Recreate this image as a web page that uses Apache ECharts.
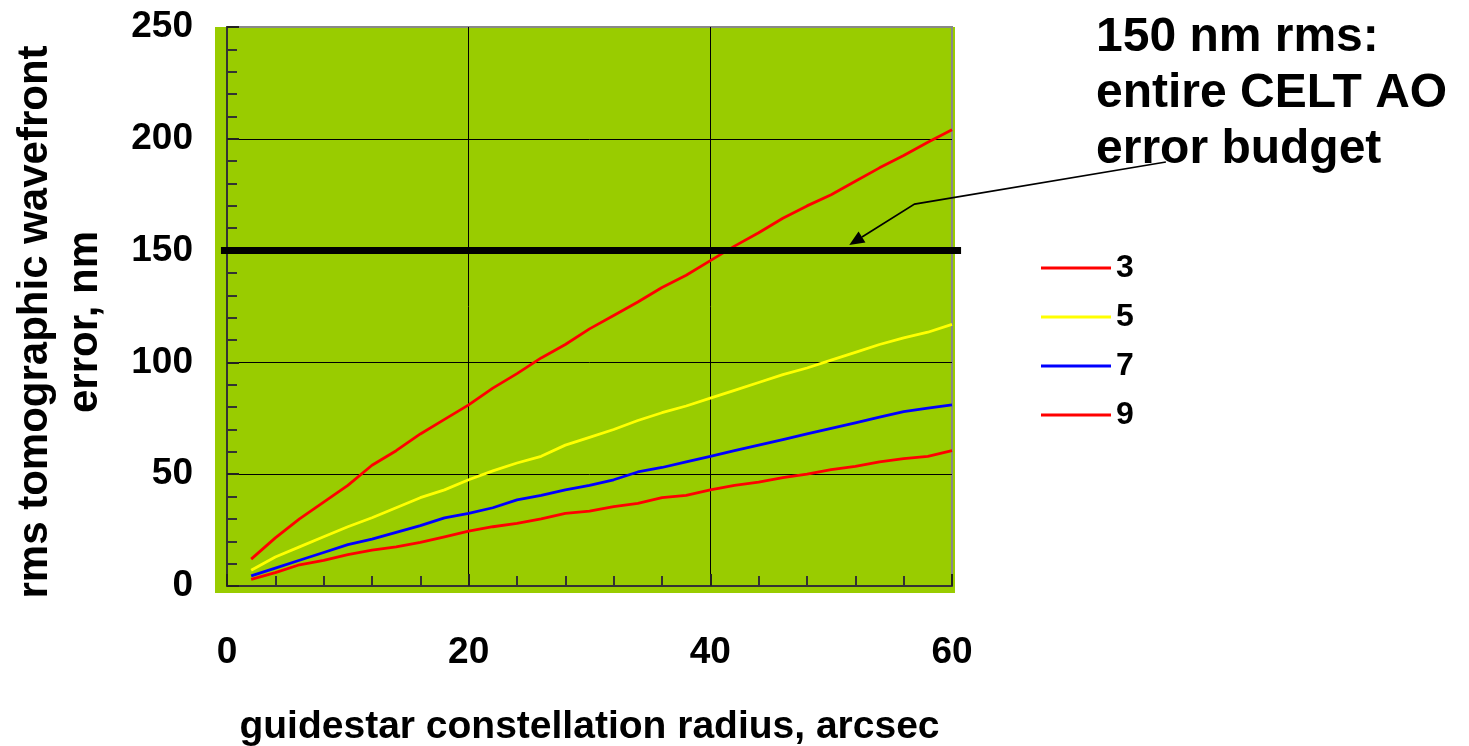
<!DOCTYPE html>
<html>
<head>
<meta charset="utf-8">
<script src="https://cdn.jsdelivr.net/npm/echarts@6/dist/echarts.min.js"></script>
<style>
html,body{margin:0;padding:0;background:#fff;overflow:hidden;}
#chart{width:1469px;height:746px;}
</style>
</head>
<body>
<div id="chart"></div>
<script>
// ---- data ----
const radius = [2,4,6,8,10,12,14,16,18,20,22,24,26,28,30,32,34,36,38,40,42,44,46,48,50,52,54,56,58,60];
const err3 = [12,21.5,30,37.5,45,54,60.5,68,74.5,81,88.5,95,102,108,115,121,127,133.5,139,145.5,152,158,164.5,170,175,181,187,192.5,198.5,204];
const err5 = [7,13,17.5,22,26.5,30.5,35,39.5,43,47.5,51.5,55,58,63,66.5,70,74,77.5,80.5,84,87.5,91,94.5,97.5,101,104.5,108,111,113.5,117];
const err7 = [4.5,8,11.5,15,18.5,21,24,27,30.5,32.5,35,38.5,40.5,43,45,47.5,51,53,55.5,58,60.5,63,65.5,68,70.5,73,75.5,78,79.5,81];
const err9 = [3,6,9.5,11.5,14,16,17.5,19.5,22,24.5,26.5,28,30,32.5,33.5,35.5,37,39.5,40.5,43,45,46.5,48.5,50,52,53.5,55.5,57,58,60.5];
const seriesNames = ['3','5','7','9'];
const budgetLine = [[-0.5,150],[60.75,150]];
const arrowPath = [[77.7,189.6],[56.9,170.8],[51.5,152.5]];
const xTicks = [0,20,40,60];
const xTitle = 'guidestar constellation radius, arcsec';
const yTitle = 'rms tomographic wavefront\nerror, nm';
const noteText = '150 nm rms:\nentire CELT AO\nerror budget';

const FONT = '"Liberation Sans", Arial, sans-serif';
const pairs = arr => radius.map((x,i)=>[x, arr[i]]);
const colors = ['#ff0000','#ffff00','#0000ff','#ff0000'];
const datasets = [err3, err5, err7, err9];

const chart = echarts.init(document.getElementById('chart'));
const axisCommon = {
  axisLine:{show:true, onZero:false, lineStyle:{color:'#333', width:2}},
  axisTick:{show:true, inside:true, length:12, lineStyle:{color:'#222', width:2}},
  minorTick:{show:true, splitNumber:5, length:10, lineStyle:{color:'#333', width:2}},
  splitLine:{show:true, showMinLine:false, showMaxLine:false, lineStyle:{color:'#000', width:1}},
  axisLabel:{color:'#000', fontSize:37, fontWeight:'bold', fontFamily:FONT}
};
const lineSeries = seriesNames.map((n,i)=>({
  name:n, type:'line', data:pairs(datasets[i]), symbol:'none', showSymbol:false,
  lineStyle:{color:colors[i], width:2.8}, itemStyle:{color:colors[i]}, z:3, silent:true
}));
const baseGraphics = [
  {id:'bg', type:'rect', left:215, top:27, shape:{width:740, height:566}, style:{fill:'#99cc00'}, z:-100, silent:true},
  {id:'ytitle', type:'text', x:60, y:322, rotation:Math.PI/2, style:{text:yTitle, fontSize:42, fontWeight:'bold', fontFamily:FONT, fill:'#000', align:'center', verticalAlign:'middle', lineHeight:50}},
  {id:'note', type:'text', x:1096, y:10, style:{text:noteText, fontSize:48, fontWeight:'bold', fontFamily:FONT, fill:'#000', lineHeight:56}}
];
chart.setOption({
  animation:false,
  backgroundColor:'#fff',
  grid:{left:227, right:517, top:27, bottom:160, show:true, borderColor:'#888', borderWidth:2,
        backgroundColor:'transparent', outerBoundsMode:'none', containLabel:false},
  graphic:baseGraphics,
  legend:{
    data:seriesNames, orient:'vertical', left:1036, top:247, icon:'rect', itemWidth:70, itemHeight:3, itemGap:17,
    textStyle:{fontSize:32, fontWeight:'bold', fontFamily:FONT, color:'#000', lineHeight:32}
  },
  xAxis:Object.assign({type:'value', min:0, max:60, interval:20,
    name:xTitle, nameLocation:'middle', nameGap:122,
    nameTextStyle:{fontSize:39, fontWeight:'bold', fontFamily:FONT, color:'#000'}}, axisCommon,
    {axisLabel:Object.assign({}, axisCommon.axisLabel, {margin:48, customValues:xTicks})}),
  yAxis:Object.assign({type:'value', min:0, max:250, interval:50}, axisCommon,
    {axisLabel:Object.assign({}, axisCommon.axisLabel, {margin:34, padding:[4,0,0,0]})}),
  series: lineSeries
});

// annotation: budget line and arrow, positioned through the chart's own scales
const toPx = pt => chart.convertToPixel({gridIndex:0}, pt);
const b0 = toPx(budgetLine[0]), b1 = toPx(budgetLine[1]);
const ap = arrowPath.map(toPx);
const tip = ap[ap.length-1], prev = ap[ap.length-2];
const dx = tip[0]-prev[0], dy = tip[1]-prev[1], len = Math.hypot(dx,dy);
const ux = dx/len, uy = dy/len, headLen = 15, headHalf = 6.5;
const base = [tip[0]-ux*headLen, tip[1]-uy*headLen];
const head = [tip, [base[0]-uy*headHalf, base[1]+ux*headHalf], [base[0]+uy*headHalf, base[1]-ux*headHalf]];
const linePts = ap.slice(0, ap.length-1).concat([base]);
chart.setOption({graphic: baseGraphics.concat([
  {id:'budget', type:'polyline', shape:{points:[b0,b1]}, style:{stroke:'#000', lineWidth:7, fill:null}, z:10, silent:true},
  {id:'arrowLine', type:'polyline', shape:{points:linePts}, style:{stroke:'#000', lineWidth:1.6, fill:null}, z:11, silent:true},
  {id:'arrowHead', type:'polygon', shape:{points:head}, style:{fill:'#000'}, z:11, silent:true}
])});
</script>
</body>
</html>
